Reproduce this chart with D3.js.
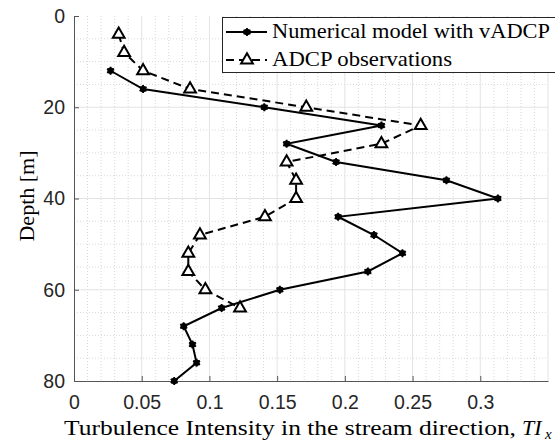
<!DOCTYPE html>
<html>
<head>
<meta charset="utf-8">
<script src="https://cdn.jsdelivr.net/npm/d3@7"></script>
<style>
  body { margin: 0; background: #fff; }
  svg { display: block; }
</style>
</head>
<body>
<div class="chart"></div>
<script>
// depths [m] and turbulence intensity
var modelDepth = [12, 16, 20, 24, 28, 32, 36, 40, 44, 48, 52, 56, 60, 64, 68, 72, 76, 80];
var modelTI = [0.027, 0.051, 0.1405, 0.227, 0.157, 0.1935, 0.275, 0.313, 0.195, 0.2215, 0.2425, 0.217, 0.152, 0.109, 0.081, 0.0875, 0.0905, 0.074];

var adcpDepth = [4, 8, 12, 16, 20, 24, 28, 32, 36, 40, 44, 48, 52, 56, 60, 64];
var adcpTI = [0.033, 0.037, 0.051, 0.0857, 0.1715, 0.256, 0.227, 0.157, 0.164, 0.164, 0.141, 0.093, 0.0844, 0.0844, 0.097, 0.1226];

var xTicks = [0, 0.05, 0.1, 0.15, 0.2, 0.25, 0.3];
var yTicks = [0, 20, 40, 60, 80];
var legendLabels = ["Numerical model with vADCP", "ADCP observations"];

var svgWidth = 555, svgHeight = 443;
var margin = {top: 16, right: 7, bottom: 62, left: 74};

var svg = d3.select(".chart").append("svg")
    .attr("width", svgWidth)
    .attr("height", svgHeight);

var x = d3.scaleLinear().domain([0, 0.35]).range([margin.left, svgWidth - margin.right]);
var y = d3.scaleLinear().domain([0, 80]).range([margin.top, svgHeight - margin.bottom]);

var grid = svg.append("g");

// minor grid (dotted)
grid.selectAll(".vminor")
    .data(d3.range(1, 35).filter(i => i % 5 != 0).map(i => i / 100))
    .enter().append("line")
    .attr("x1", d => x(d)).attr("x2", d => x(d))
    .attr("y1", y(0)).attr("y2", y(80))
    .attr("stroke", "#d9d9d9").attr("stroke-width", 1)
    .attr("stroke-dasharray", "1,2");

grid.selectAll(".hminor")
    .data(d3.range(5, 80, 5).filter(d => d % 20 != 0))
    .enter().append("line")
    .attr("x1", x(0)).attr("x2", x(0.35))
    .attr("y1", d => y(d)).attr("y2", d => y(d))
    .attr("stroke", "#d9d9d9").attr("stroke-width", 1)
    .attr("stroke-dasharray", "1,2");

// major grid
grid.selectAll(".vmajor")
    .data([0.05, 0.1, 0.15, 0.2, 0.25, 0.3, 0.35])
    .enter().append("line")
    .attr("x1", d => x(d)).attr("x2", d => x(d))
    .attr("y1", y(0)).attr("y2", y(80))
    .attr("stroke", "#e3e3e3").attr("stroke-width", 1);

grid.selectAll(".hmajor")
    .data([20, 40, 60])
    .enter().append("line")
    .attr("x1", x(0)).attr("x2", x(0.35))
    .attr("y1", d => y(d)).attr("y2", d => y(d))
    .attr("stroke", "#e3e3e3").attr("stroke-width", 1);

// axes, ticks pointing inward
var xAxis = d3.axisBottom(x).tickValues(xTicks).tickSize(-5).tickPadding(14)
    .tickFormat(d => d3.format("~g")(d)).tickSizeOuter(0);
var yAxis = d3.axisLeft(y).tickValues(yTicks).tickSize(-5).tickPadding(9).tickSizeOuter(0);

var gx = svg.append("g").attr("transform", `translate(0, ${y(80)})`).call(xAxis);
var gy = svg.append("g").attr("transform", `translate(${x(0)}, 0)`).call(yAxis);

[gx, gy].forEach(function(g) {
    g.select(".domain").attr("stroke", "#555").attr("stroke-width", 1);
    g.selectAll(".tick line").attr("stroke", "#555");
    g.selectAll(".tick text")
        .attr("fill", "#262626")
        .style("font-family", "'Liberation Sans', Arial, sans-serif")
        .style("font-size", "19.5px");
});
gx.selectAll(".tick text").attr("dy", "0.71em");

// lines
var lineModel = d3.line().x(d => x(d[0])).y(d => y(d[1]));
var modelData = d3.zip(modelTI, modelDepth);
var adcpData = d3.zip(adcpTI, adcpDepth);

svg.append("path")
    .datum(adcpData)
    .attr("d", lineModel)
    .attr("fill", "none").attr("stroke", "#000").attr("stroke-width", 2)
    .attr("stroke-dasharray", "8,5");

svg.append("path")
    .datum(modelData)
    .attr("d", lineModel)
    .attr("fill", "none").attr("stroke", "#000").attr("stroke-width", 2);

var tri = d3.symbol().type(d3.symbolTriangle).size(60);
var star = d3.symbol().type(d3.symbolAsterisk).size(45);

function modelMarker(g) {
    g.append("circle").attr("r", 3.2).attr("fill", "#000");
    g.append("path").attr("d", star).attr("fill", "none").attr("stroke", "#000").attr("stroke-width", 1.8);
}
function adcpMarker(g) {
    g.append("path").attr("d", tri).attr("fill", "#fff").attr("stroke", "#000").attr("stroke-width", 2);
}

svg.selectAll(".adcp")
    .data(adcpData)
    .enter().append("g")
    .attr("transform", d => `translate(${x(d[0])}, ${y(d[1])})`)
    .each(function() { adcpMarker(d3.select(this)); });

svg.selectAll(".model")
    .data(modelData)
    .enter().append("g")
    .attr("transform", d => `translate(${x(d[0])}, ${y(d[1])})`)
    .each(function() { modelMarker(d3.select(this)); });

// legend
var serif = "'Liberation Serif', 'Times New Roman', serif";
var legend = svg.append("g");
legend.append("rect")
    .attr("x", 222.5).attr("y", 17.5).attr("width", 340).attr("height", 55)
    .attr("fill", "#fff").attr("stroke", "#262626").attr("stroke-width", 1);

var rows = [32, 60];
legend.append("line").attr("x1", 226).attr("x2", 267).attr("y1", rows[0]).attr("y2", rows[0])
    .attr("stroke", "#000").attr("stroke-width", 2);
modelMarker(legend.append("g").attr("transform", `translate(247, ${rows[0]})`));
legend.append("line").attr("x1", 226).attr("x2", 267).attr("y1", rows[1]).attr("y2", rows[1])
    .attr("stroke", "#000").attr("stroke-width", 2).attr("stroke-dasharray", "8,5");
adcpMarker(legend.append("g").attr("transform", `translate(247, ${rows[1]})`));

legend.selectAll(".ltext")
    .data(legendLabels)
    .enter().append("text")
    .attr("x", 272)
    .attr("y", (d, i) => rows[i] + 6)
    .attr("textLength", (d, i) => i == 0 ? 278 : 180)
    .attr("lengthAdjust", "spacingAndGlyphs")
    .style("font-family", serif).style("font-size", "22px")
    .attr("fill", "#000")
    .text(d => d);

// axis labels
svg.append("text")
    .attr("x", 64).attr("y", 435)
    .attr("textLength", 452).attr("lengthAdjust", "spacingAndGlyphs")
    .style("font-family", serif).style("font-size", "22px")
    .text("Turbulence Intensity in the stream direction,");
svg.append("text")
    .attr("x", 522).attr("y", 435)
    .style("font-family", serif).style("font-size", "22px").style("font-style", "italic")
    .text("TI");
svg.append("text")
    .attr("x", 545).attr("y", 439)
    .style("font-family", serif).style("font-size", "15px").style("font-style", "italic")
    .text("x");

svg.append("text")
    .attr("transform", "translate(34, 196) rotate(-90)")
    .attr("text-anchor", "middle")
    .style("font-family", serif).style("font-size", "22px")
    .text("Depth [m]");
</script>
</body>
</html>
